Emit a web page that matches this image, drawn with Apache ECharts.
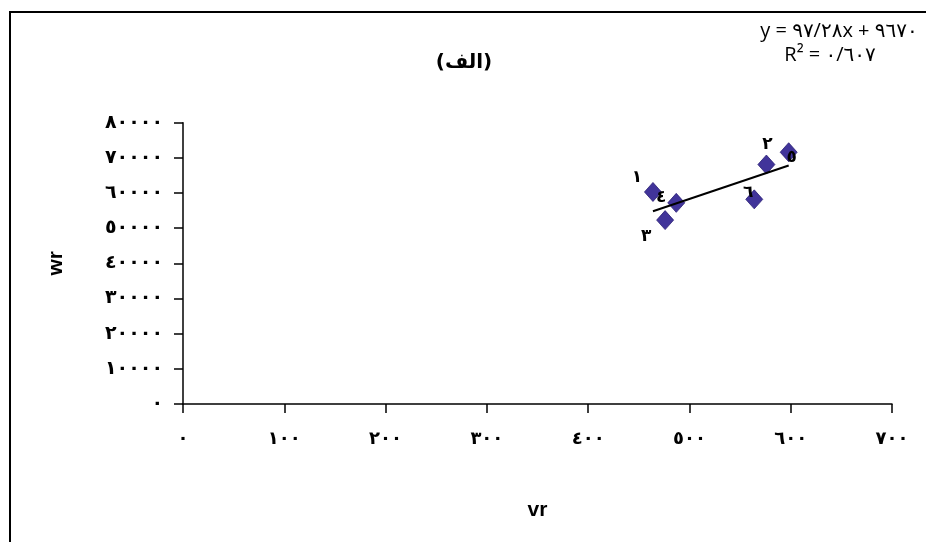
<!DOCTYPE html>
<html>
<head>
<meta charset="utf-8">
<script src="https://cdn.jsdelivr.net/npm/echarts@6/dist/echarts.min.js"></script>
<style>html,body{margin:0;padding:0;background:#fff}#c{width:926px;height:542px}</style>
</head>
<body>
<div id="c"></div>
<script>
const pointNames = ['١','٢','٣','٤','٥','٦'];
const xValues = [464, 576, 476, 487, 598, 564];
const yValues = [60300, 68100, 52300, 57200, 71600, 58200];
const xTickLabels = ['٠','١٠٠','٢٠٠','٣٠٠','٤٠٠','٥٠٠','٦٠٠','٧٠٠'];
const yTickLabels = ['٠','١٠٠٠٠','٢٠٠٠٠','٣٠٠٠٠','٤٠٠٠٠','٥٠٠٠٠','٦٠٠٠٠','٧٠٠٠٠','٨٠٠٠٠'];
const trendSlope = 97.28, trendIntercept = 9670;
const titleText = '(الف)';
const eqLine1 = 'y = ٩٧/٢٨x + ٩٦٧٠';
const eqLine2 = 'R² = ٠/٦٠٧';
const xName = 'vr', yName = 'wr';

const labelOffsets = [[-16,-14],[1,-20],[-19,16],[-15,-5],[3,5],[-6,-7]];

const scatterData = xValues.map((x, i) => ({
  value: [x, yValues[i]],
  name: pointNames[i],
  label: { offset: labelOffsets[i] }
}));
const xMin = Math.min(...xValues), xMax = Math.max(...xValues);
const trendData = [[xMin, trendSlope * xMin + trendIntercept], [xMax, trendSlope * xMax + trendIntercept]];

const chart = echarts.init(document.getElementById('c'), null, {renderer: 'canvas'});
chart.setOption({
  backgroundColor: '#fff',
  animation: false,
  grid: { left: 183, right: 34, top: 122.7, bottom: 138, containLabel: false },
  xAxis: {
    type: 'value', min: 0, max: 700, interval: 100,
    name: xName, nameLocation: 'middle', nameGap: 96,
    nameTextStyle: { fontFamily: 'Liberation Sans', fontWeight: 'bold', fontSize: 21, color: '#000' },
    axisLine: { show: true, onZero: false, lineStyle: { color: '#000', width: 1.5 } },
    axisTick: { show: true, length: 9, lineStyle: { color: '#000', width: 1.5 } },
    axisLabel: { margin: 26, fontSize: 18, fontWeight: 'bold', fontFamily: 'DejaVu Sans', color: '#000',
      formatter: v => xTickLabels[Math.round(v / 100)] },
    splitLine: { show: false }
  },
  yAxis: {
    type: 'value', min: 0, max: 80000, interval: 10000,
    name: yName, nameLocation: 'middle', nameGap: 116, nameRotate: 90,
    nameTextStyle: { fontFamily: 'Liberation Sans', fontWeight: 'bold', fontSize: 21, color: '#000' },
    axisLine: { show: true, onZero: false, lineStyle: { color: '#000', width: 1.5 } },
    axisTick: { show: true, length: 9, lineStyle: { color: '#000', width: 1.5 } },
    axisLabel: { margin: 20, fontSize: 19, fontWeight: 'bold', fontFamily: 'DejaVu Sans', color: '#000',
      formatter: v => yTickLabels[Math.round(v / 10000)] },
    splitLine: { show: false }
  },
  series: [
    {
      type: 'line', data: trendData, symbol: 'none', silent: true,
      lineStyle: { color: '#000', width: 2 }, z: 3
    },
    {
      type: 'scatter', data: scatterData, symbol: 'diamond', symbolSize: [17, 19],
      itemStyle: { color: '#41349a', borderColor: '#2a1f76', borderWidth: 0.8, opacity: 1 },
      label: { show: true, position: 'inside', formatter: p => p.name,
        fontFamily: 'DejaVu Sans', fontSize: 17, fontWeight: 'bold', color: '#000' },
      z: 2
    }
  ],
  graphic: [
    { type: 'rect', shape: { x: 10, y: 12, width: 1000, height: 1000 },
      style: { fill: 'none', stroke: '#000', lineWidth: 2 }, silent: true, z: -1 },
    { type: 'text', x: 464, y: 63, style: { text: titleText, fontSize: 20, fontWeight: 'bold', fontFamily: 'DejaVu Sans',
      fill: '#000', align: 'center', verticalAlign: 'middle' } },
    { type: 'text', x: 839, y: 31, style: { text: eqLine1, fontSize: 20, fontFamily: 'Open Sans, DejaVu Sans',
      fill: '#000', align: 'center', verticalAlign: 'middle' } },
    { type: 'text', x: 830, y: 55, style: { text: eqLine2, fontSize: 20, fontFamily: 'Open Sans, DejaVu Sans',
      fill: '#000', align: 'center', verticalAlign: 'middle' } }
  ]
});
</script>
</body>
</html>
